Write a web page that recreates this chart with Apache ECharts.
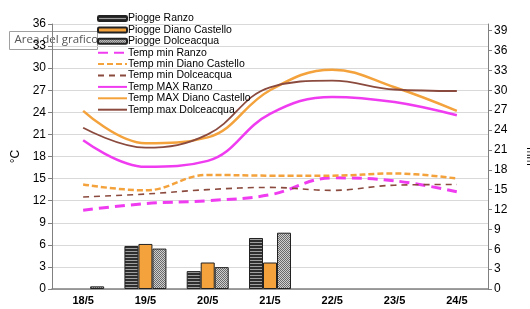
<!DOCTYPE html>
<html>
<head>
<meta charset="utf-8">
<script src="https://cdn.jsdelivr.net/npm/echarts@6/dist/echarts.min.js"></script>
<style>
  html, body { margin: 0; padding: 0; background: #fff; }
  #main { width: 530px; height: 309px; }
</style>
</head>
<body>
<div id="main"></div>
<script>
// dati (null = nessuna pioggia)
var giorni = ['18/5', '19/5', '20/5', '21/5', '22/5', '23/5', '24/5'];
var pioggeRanzo = [null, 6.5, 2.7, 7.7, null, null, null];
var pioggeDiano = [null, 6.8, 4.0, 4.0, null, null, null];
var pioggeDolce = [0.4, 6.1, 3.3, 8.5, null, null, null];
var minRanzo = [10.7, 11.6, 12.0, 12.8, 15.1, 14.7, 13.2];
var minDiano = [14.2, 13.4, 15.5, 15.4, 15.4, 15.7, 15.0];
var minDolce = [12.5, 12.9, 13.5, 13.8, 13.4, 14.1, 14.2];
var maxRanzo = [20.2, 16.6, 17.4, 23.8, 26.1, 25.4, 23.6];
var maxDiano = [24.2, 19.8, 20.6, 27.0, 29.8, 27.4, 24.2];
var maxDolce = [21.9, 19.2, 21.0, 27.4, 28.3, 27.1, 26.9];
var tickSx = [0, 3, 6, 9, 12, 15, 18, 21, 24, 27, 30, 33, 36];
var tickDx = [0, 3, 6, 9, 12, 15, 18, 21, 24, 27, 30, 33, 36, 39];

var ORANGE = '#f4a23c', BROWN = '#8b4a3e', MAGENTA = '#f03cf0';

function pattern(w, h, draw) {
    var c = document.createElement('canvas');
    c.width = w; c.height = h;
    draw(c.getContext('2d'));
    return { image: c, repeat: 'repeat' };
}
var righe = pattern(1, 3, function (g) {
    g.fillStyle = '#2e2e2e'; g.fillRect(0, 0, 1, 2);
    g.fillStyle = '#a0a0a0'; g.fillRect(0, 2, 1, 1);
});
var puntini = pattern(2, 2, function (g) {
    g.fillStyle = '#cfcfcf'; g.fillRect(0, 0, 2, 2);
    g.fillStyle = '#6a6a6a'; g.fillRect(0, 0, 1, 1); g.fillRect(1, 1, 1, 1);
});

function barra(nome, dati, colore) {
    return {
        name: nome, type: 'bar', yAxisIndex: 1, data: dati,
        barWidth: 14, barGap: '0%',
        itemStyle: { color: colore, borderColor: '#222', borderWidth: 1 },
        z: 1
    };
}
function linea(nome, dati, colore, larg, tipo) {
    return {
        name: nome, type: 'line', data: dati, smooth: 0.4,
        symbol: 'none', lineStyle: { color: colore, width: larg, type: tipo },
        itemStyle: { color: colore }, z: 3
    };
}
var nascosto = { color: 'rgba(0,0,0,0)', borderWidth: 0, opacity: 0 };
function voce(nome, linee) {
    return linee ? { name: nome, itemStyle: nascosto } : { name: nome };
}

var chart = echarts.init(document.getElementById('main'));
chart.setOption({
    animation: false,
    textStyle: { fontFamily: 'Liberation Sans, Arial, sans-serif' },
    grid: { left: 52, right: 42, top: 24, bottom: 20, containLabel: false, outerBoundsMode: 'none' },
    legend: {
        orient: 'vertical', left: 92, top: 8,
        itemWidth: 29, itemHeight: 5, itemGap: 0.4,
        textStyle: { fontSize: 10.5, color: '#000', lineHeight: 11, padding: [0, 0, 0, -4] },
        data: [voce('Piogge Ranzo'), voce('Piogge Diano Castello'), voce('Piogge Dolceacqua'),
            voce('Temp min Ranzo', 1), voce('Temp min Diano Castello', 1), voce('Temp min Dolceacqua', 1),
            voce('Temp MAX Ranzo', 1), voce('Temp MAX Diano Castello', 1), voce('Temp max Dolceacqua', 1)]
    },
    xAxis: {
        type: 'category', data: giorni,
        axisLine: { lineStyle: { color: '#808080', width: 1.5 } },
        axisTick: { length: 4, lineStyle: { color: '#808080' } },
        axisLabel: { fontSize: 11, fontWeight: 'bold', color: '#000', margin: 6 }
    },
    yAxis: [{
        type: 'value', min: 0, max: 36, interval: 3,
        name: '°C', nameLocation: 'middle', nameGap: 30, nameRotate: 90,
        nameTextStyle: { fontSize: 12, color: '#000' },
        axisLine: { show: true, lineStyle: { color: '#808080' } },
        axisTick: { show: true, length: 4, lineStyle: { color: '#808080' } },
        axisLabel: { fontSize: 12, color: '#000', margin: 6,
            customValues: tickSx },
        splitLine: { lineStyle: { color: '#d9d9d9', width: 1 } }
    }, {
        type: 'value', min: 0, max: 40, interval: 3,
        name: 'mm', nameLocation: 'middle', nameGap: 37, nameRotate: -90,
        nameTextStyle: { fontSize: 11, color: '#000' },
        axisLine: { show: true, lineStyle: { color: '#808080' } },
        axisTick: { show: true, length: 4, lineStyle: { color: '#808080' },
            customValues: tickDx },
        axisLabel: { fontSize: 12, color: '#000', margin: 6,
            customValues: tickDx },
        splitLine: { show: false }
    }],
    series: [
        barra('Piogge Ranzo', pioggeRanzo, righe),
        barra('Piogge Diano Castello', pioggeDiano, ORANGE),
        barra('Piogge Dolceacqua', pioggeDolce, puntini),
        linea('Temp min Ranzo', minRanzo, MAGENTA, 3, [10, 6]),
        linea('Temp min Diano Castello', minDiano, ORANGE, 2.5, [6, 3]),
        linea('Temp min Dolceacqua', minDolce, BROWN, 1.6, [6, 5]),
        linea('Temp MAX Ranzo', maxRanzo, MAGENTA, 2.5, 'solid'),
        linea('Temp MAX Diano Castello', maxDiano, ORANGE, 2.5, 'solid'),
        linea('Temp max Dolceacqua', maxDolce, BROWN, 1.8, 'solid')
    ],
    graphic: [{
        type: 'group', left: 9, top: 31, z: 100,
        children: [{
            type: 'rect', shape: { x: 0, y: 0, width: 88, height: 18 },
            style: { fill: '#fff', stroke: '#a0a0a0', lineWidth: 1 }
        }, {
            type: 'text', x: 5, y: 2,
            style: { text: 'Area del grafico', fontSize: 11.5, fill: '#555',
                fontFamily: 'Open Sans, Noto Sans, sans-serif' }
        }]
    }]
});
</script>
</body>
</html>
